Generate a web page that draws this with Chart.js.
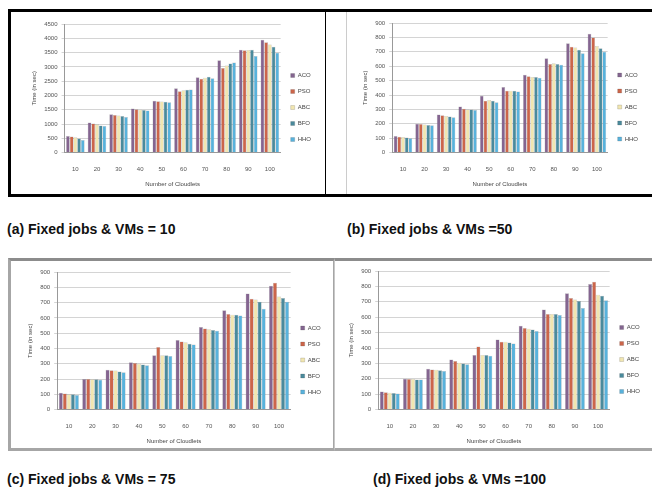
<!DOCTYPE html>
<html lang="en">
<head>
  <meta charset="UTF-8" />
  <title>Fixed jobs & VMs</title>
  <script src="https://cdn.jsdelivr.net/npm/chart.js"></script>
  <style>
    body { margin: 0; width: 652px; height: 498px; background: #fff; position: relative; overflow: hidden; font-family: "Liberation Sans", Arial, sans-serif; }
    .panel { position: absolute; box-sizing: border-box; background: #fff; }
    #pa { left: 8px; top: 9px; width: 320px; height: 188px; border: 3px solid #000; }
    #pb { left: 326px; top: 9px; width: 330px; height: 188px; border-top: 3px solid #000; border-bottom: 3px solid #000; }
    #pb .inner { position: absolute; left: 20px; top: 0; bottom: 0; width: 1px; background: #ccc; }
    #pc { left: 8px; top: 258px; width: 328px; height: 193px; border: 3px solid #a6a6a6; border-top-color: #8c8c8c; }
    #pd { left: 334px; top: 258px; width: 322px; height: 193px; border-top: 3px solid #8c8c8c; border-bottom: 3px solid #a6a6a6; border-left: 1px solid #c8c8c8; }
    canvas { position: absolute; }
    .cap { position: absolute; font-weight: bold; font-size: 14px; color: #111; white-space: nowrap; }
  </style>
</head>
<body>
  <div class="panel" id="pa"></div>
  <div class="panel" id="pb"><div class="inner"></div></div>
  <div class="panel" id="pc"></div>
  <div class="panel" id="pd"></div>

  <canvas id="chartA" width="312" height="182" style="left:11px; top:12px;"></canvas>
  <canvas id="chartB" width="300" height="182" style="left:348px; top:12px;"></canvas>
  <canvas id="chartC" width="322" height="187" style="left:11px; top:261px;"></canvas>
  <canvas id="chartD" width="316" height="187" style="left:336px; top:261px;"></canvas>

  <div class="cap" style="left:7px; top:221px;">(a) Fixed jobs &amp; VMs = 10</div>
  <div class="cap" style="left:347px; top:221px;">(b) Fixed jobs &amp; VMs =50</div>
  <div class="cap" style="left:7px; top:471px;">(c) Fixed jobs &amp; VMs = 75</div>
  <div class="cap" style="left:373px; top:471px;">(d) Fixed jobs &amp; VMs =100</div>

  <script>
    // Numero de cloudlets (eixo x)
    const cloudlets = ['10', '20', '30', '40', '50', '60', '70', '80', '90', '100'];
    const algoritmos = ['ACO', 'PSO', 'ABC', 'BFO', 'HHO'];
    const cores = ['#846590', '#cc654a', '#f1e6b0', '#4a8a9c', '#58b2dc'];

    // (a) VMs = 10
    const aACO = [580, 1050, 1340, 1540, 1810, 2250, 2640, 3230, 3600, 3950];
    const aPSO = [560, 1020, 1320, 1520, 1800, 2150, 2580, 2960, 3580, 3860];
    const aABC = [535, 990, 1300, 1500, 1790, 2180, 2620, 3050, 3590, 3780];
    const aBFO = [490, 950, 1280, 1490, 1780, 2200, 2650, 3120, 3600, 3700];
    const aHHO = [440, 930, 1250, 1470, 1760, 2210, 2600, 3150, 3380, 3490];

    // (b) VMs = 50
    const bACO = [115, 200, 265, 320, 395, 455, 540, 655, 760, 825];
    const bPSO = [110, 198, 260, 305, 360, 430, 530, 615, 735, 800];
    const bABC = [108, 195, 255, 300, 365, 430, 525, 620, 730, 740];
    const bBFO = [105, 192, 250, 300, 360, 430, 525, 615, 715, 725];
    const bHHO = [100, 190, 245, 295, 350, 425, 520, 610, 690, 700];

    // (c) VMs = 75
    const cACO = [110, 200, 260, 310, 355, 455, 540, 650, 760, 810];
    const cPSO = [105, 200, 258, 305, 410, 445, 530, 625, 725, 830];
    const cABC = [100, 198, 255, 300, 355, 440, 525, 620, 720, 740];
    const cBFO = [100, 198, 250, 295, 355, 430, 520, 620, 705, 730];
    const cHHO = [95, 195, 245, 290, 350, 425, 515, 615, 660, 705];

    // (d) VMs = 100
    const dACO = [118, 200, 265, 325, 355, 455, 545, 650, 755, 815];
    const dPSO = [112, 198, 260, 315, 410, 440, 530, 620, 725, 830];
    const dABC = [110, 198, 258, 305, 355, 440, 525, 620, 715, 745];
    const dBFO = [108, 195, 255, 300, 355, 435, 520, 620, 705, 740];
    const dHHO = [105, 195, 250, 295, 350, 430, 510, 615, 660, 710];

    const fonteMini = { family: 'Liberation Sans, Arial, sans-serif', size: 6 };

    function criarGrafico(id, series, yMax, passo, pad) {
      return new Chart(document.getElementById(id), {
        type: 'bar',
        data: {
          labels: cloudlets,
          datasets: series.map((s, i) => ({
            label: algoritmos[i],
            data: s,
            backgroundColor: cores[i],
            borderColor: 'rgba(60,60,60,0.35)',
            borderWidth: 0.5,
            categoryPercentage: 0.86,
            barPercentage: 1.0
          }))
        },
        options: {
          responsive: false,
          animation: false,
          layout: { padding: pad },
          plugins: {
            legend: {
              position: 'right',
              labels: { font: fonteMini, color: '#444', boxWidth: 4, boxHeight: 4, padding: 10 }
            },
            tooltip: { enabled: false }
          },
          scales: {
            x: {
              grid: { display: false },
              border: { color: '#999' },
              ticks: { font: fonteMini, color: '#555', maxRotation: 0, padding: 5 },
              title: { display: true, text: 'Number of Cloudlets', font: fonteMini, color: '#444', padding: 3 }
            },
            y: {
              min: 0, max: yMax,
              ticks: { stepSize: passo, font: fonteMini, color: '#555', padding: 4, callback: v => String(v) },
              grid: { color: '#d4d4d4', drawTicks: true, tickLength: 3 },
              border: { color: '#999' },
              title: { display: true, text: 'Time (in sec)', font: fonteMini, color: '#444', padding: 2 }
            }
          }
        }
      });
    }

    criarGrafico('chartA', [aACO, aPSO, aABC, aBFO, aHHO], 4500, 500, { left: 18, top: 12, right: 2, bottom: 3 });
    criarGrafico('chartB', [bACO, bPSO, bABC, bBFO, bHHO], 900, 100, { left: 12, top: 11, right: 0, bottom: 3 });
    criarGrafico('chartC', [cACO, cPSO, cABC, cBFO, cHHO], 900, 100, { left: 14, top: 11, right: 2, bottom: 0 });
    criarGrafico('chartD', [dACO, dPSO, dABC, dBFO, dHHO], 900, 100, { left: 10, top: 10, right: 2, bottom: 0 });
  </script>
</body>
</html>
